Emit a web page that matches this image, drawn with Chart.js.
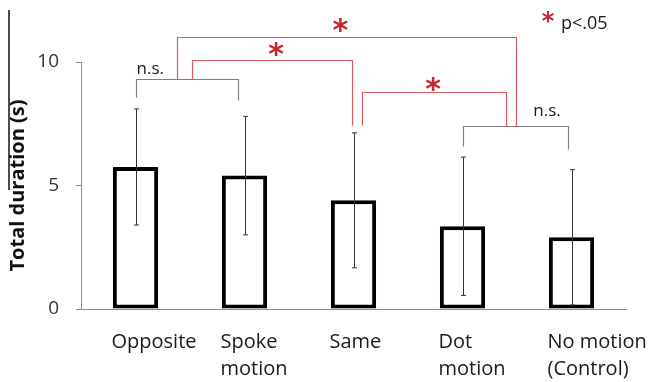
<!DOCTYPE html>
<html>
<head>
<meta charset="utf-8">
<script src="https://cdn.jsdelivr.net/npm/chart.js@4"></script>
<style>
  html, body { margin: 0; padding: 0; background: #fff; }
  #wrap { width: 653px; height: 382px; }
</style>
</head>
<body>
<div id="wrap"><canvas id="durationChart" width="653" height="382"></canvas></div>
<script>
// Data
const categories = [['Opposite'], ['Spoke', 'motion'], ['Same'], ['Dot', 'motion'], ['No motion', '(Control)']];
const means = [5.75, 5.4, 4.4, 3.35, 2.9];
const sd = [2.35, 2.4, 2.73, 2.8, 2.74];
const yTicks = [0, 5, 10];

// Comparison brackets: [x index, y value] path points, colour, label
const brackets = [
    { pts: [[0, 8.6], [0, 9.32], [0.94, 9.32], [0.94, 8.46]], color: '#808080', label: 'n.s.', lx: 0.01, ly: 9.5 },
    { pts: [[3.0, 6.61], [3.0, 7.42], [3.965, 7.42], [3.965, 6.48]], color: '#808080', label: 'n.s.', lx: 3.65, ly: 7.8 },
    { pts: [[0.38, 9.32], [0.38, 11.0], [3.49, 11.0], [3.49, 7.42]], color: '#dd5a5f', star: [1.88, 11.45] },
    { pts: [[0.52, 9.32], [0.52, 10.1], [1.985, 10.1], [1.985, 7.45]], color: '#dd5a5f', star: [1.29, 10.48] },
    { pts: [[2.08, 7.45], [2.08, 8.77], [3.4, 8.77], [3.4, 7.42]], color: '#dd5a5f', star: [2.73, 9.08] }
];

const overlay = {
    id: 'overlay',
    afterDatasetsDraw(chart) {
        const ctx = chart.ctx;
        const x = chart.scales.x, y = chart.scales.y;
        ctx.save();
        // error bars
        ctx.strokeStyle = '#333';
        ctx.lineWidth = 1;
        means.forEach((m, i) => {
            const px = Math.round(x.getPixelForValue(i)) + 0.5;
            const top = y.getPixelForValue(m + sd[i]);
            const bot = y.getPixelForValue(Math.max(m - sd[i], 0.05));
            ctx.beginPath();
            ctx.moveTo(px, top); ctx.lineTo(px, bot);
            ctx.moveTo(px - 2.5, top); ctx.lineTo(px + 2.5, top);
            ctx.moveTo(px - 2.5, bot); ctx.lineTo(px + 2.5, bot);
            ctx.stroke();
        });
        // brackets
        brackets.forEach(b => {
            ctx.strokeStyle = b.color;
            ctx.lineWidth = 1.2;
            ctx.beginPath();
            b.pts.forEach((p, k) => {
                const px = Math.round(x.getPixelForValue(p[0])) + 0.5;
                const py = Math.round(y.getPixelForValue(p[1])) + 0.5;
                if (k === 0) ctx.moveTo(px, py); else ctx.lineTo(px, py);
            });
            ctx.stroke();
            if (b.label) {
                ctx.fillStyle = '#1a1a1a';
                ctx.font = '17px "Open Sans"';
                ctx.textAlign = 'left';
                ctx.textBaseline = 'alphabetic';
                ctx.fillText(b.label, x.getPixelForValue(b.lx), y.getPixelForValue(b.ly));
            }
            if (b.star) {
                ctx.fillStyle = '#c8262c';
                ctx.font = 'bold 30px "DejaVu Sans"';
                ctx.textAlign = 'center';
                ctx.textBaseline = 'middle';
                ctx.fillText('*', x.getPixelForValue(b.star[0]), y.getPixelForValue(b.star[1]) + 6);
            }
        });
        // significance key
        ctx.fillStyle = '#c8262c';
        ctx.font = 'bold 24px "DejaVu Sans"';
        ctx.textAlign = 'center';
        ctx.textBaseline = 'middle';
        ctx.fillText('*', 548, 23);
        ctx.fillStyle = '#1a1a1a';
        ctx.font = '18px "Open Sans"';
        ctx.textAlign = 'left';
        ctx.textBaseline = 'alphabetic';
        ctx.fillText('p<.05', 561, 29);
        // stray frame line at the left edge of the original figure
        ctx.strokeStyle = '#111';
        ctx.lineWidth = 1.5;
        ctx.beginPath();
        ctx.moveTo(9, 10); ctx.lineTo(9, 190);
        ctx.stroke();
        ctx.restore();
    }
};

new Chart(document.getElementById('durationChart'), {
    type: 'bar',
    data: {
        labels: categories,
        datasets: [{
            data: means,
            backgroundColor: '#ffffff',
            borderColor: '#000000',
            borderWidth: 4,
            borderSkipped: false,
            barPercentage: 0.415,
            categoryPercentage: 1
        }]
    },
    options: {
        responsive: false,
        animation: false,
        layout: { padding: { top: 62, right: 27, left: 0, bottom: 0 } },
        plugins: { legend: { display: false }, tooltip: { enabled: false } },
        scales: {
            x: {
                grid: { display: false },
                border: { display: true, color: '#8c8c8c', width: 1 },
                ticks: {
                    align: 'start',
                    labelOffset: -24,
                    padding: 12,
                    color: '#1a1a1a',
                    font: { family: '"Open Sans"', size: 20, lineHeight: 1.35 }
                },
                afterFit(s) { s.height = 73; s.paddingLeft = 0; s.paddingRight = 0; }
            },
            y: {
                min: 0,
                max: 10,
                afterBuildTicks(s) { s.ticks = yTicks.map(v => ({ value: v })); },
                grid: { drawOnChartArea: false, drawTicks: true, tickLength: 5, color: '#8c8c8c' },
                border: { display: true, color: '#8c8c8c', width: 1 },
                ticks: {
                    padding: 17,
                    color: '#333',
                    font: { family: '"Open Sans"', size: 19 }
                },
                title: {
                    display: true,
                    text: 'Total duration (s)',
                    color: '#111',
                    font: { family: '"Open Sans"', size: 20, weight: 'bold' },
                    padding: { top: 6, bottom: 0 }
                },
                afterFit(s) { s.width = 81; }
            }
        }
    },
    plugins: [overlay]
});
</script>
</body>
</html>
